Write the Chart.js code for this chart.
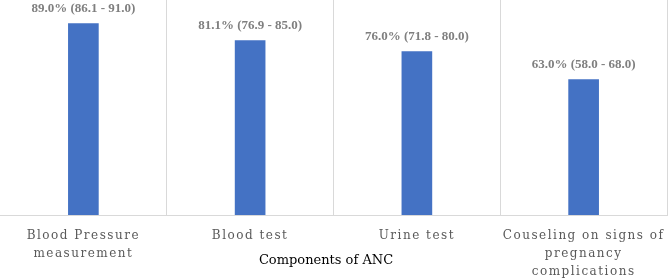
<!DOCTYPE html>
<html>
<head>
<meta charset="utf-8">
<script src="https://cdn.jsdelivr.net/npm/chart.js@4"></script>
<style>
  html, body { margin: 0; padding: 0; background: #fff; }
  #wrap { width: 669px; height: 279px; position: relative; }
</style>
</head>
<body>
<div id="wrap"><canvas id="chart"></canvas></div>
<script>
const categories = [
  ['Blood Pressure', 'measurement'],
  ['Blood test'],
  ['Urine test'],
  ['Couseling on signs of', 'pregnancy', 'complications']
];
const coverage = [89.0, 81.1, 76.0, 63.0];
const ciLow = [86.1, 76.9, 71.8, 58.0];
const ciHigh = [91.0, 85.0, 80.0, 68.0];

const serif = '"Palatino Linotype", "Book Antiqua", Palatino, "DejaVu Serif", serif';
const labelSerif = '"Palatino Linotype", "Book Antiqua", Palatino, "Liberation Serif", serif';

// value labels above the bars
const barLabels = {
  id: 'barLabels',
  afterDatasetsDraw(chart) {
    const ctx = chart.ctx;
    const meta = chart.getDatasetMeta(0);
    ctx.save();
    ctx.letterSpacing = '0px';
    ctx.font = 'bold 13px ' + labelSerif;
    ctx.fillStyle = '#7f7f7f';
    ctx.textAlign = 'center';
    ctx.textBaseline = 'middle';
    meta.data.forEach((bar, i) => {
      const txt = coverage[i].toFixed(1) + '% (' + ciLow[i].toFixed(1) + ' - ' + ciHigh[i].toFixed(1) + ')';
      ctx.fillText(txt, bar.x, bar.y - 15);
    });
    ctx.restore();
  }
};

// axis title sits between the tick lines, so draw it by hand
const axisTitle = {
  id: 'axisTitle',
  afterDraw(chart) {
    const ctx = chart.ctx;
    ctx.save();
    ctx.letterSpacing = '0px';
    ctx.font = '13px ' + serif;
    ctx.fillStyle = '#000';
    ctx.textAlign = 'center';
    ctx.textBaseline = 'middle';
    ctx.fillText('Components of ANC', 326, 261);
    ctx.restore();
  }
};

// spaced-out tick labels
const spacing = {
  id: 'spacing',
  beforeLayout(chart) { chart.ctx.letterSpacing = '1.5px'; },
  beforeDraw(chart) { chart.ctx.letterSpacing = '1.5px'; }
};

new Chart(document.getElementById('chart'), {
  type: 'bar',
  data: {
    labels: categories,
    datasets: [{
      data: coverage,
      backgroundColor: '#4472C4',
      barThickness: 30
    }]
  },
  options: {
    responsive: true,
    maintainAspectRatio: false,
    animation: false,
    layout: { padding: { left: 0, right: 2, top: 0, bottom: 0 } },
    plugins: {
      legend: { display: false },
      tooltip: { enabled: false }
    },
    scales: {
      x: {
        afterFit: s => { s.paddingLeft = 0; s.paddingRight = 0; s.height = 64; },
        grid: {
          drawTicks: false,
          color: ctx => ctx.index === 0 ? 'rgba(0,0,0,0)' : '#d9d9d9'
        },
        border: { color: '#d9d9d9' },
        ticks: {
          padding: 12,
          maxRotation: 0,
          autoSkip: false,
          color: '#595959',
          font: { family: serif, size: 12, lineHeight: '18px' }
        }
      },
      y: {
        display: false,
        min: 0,
        max: 100
      }
    }
  },
  plugins: [spacing, barLabels, axisTitle]
});
</script>
</body>
</html>
